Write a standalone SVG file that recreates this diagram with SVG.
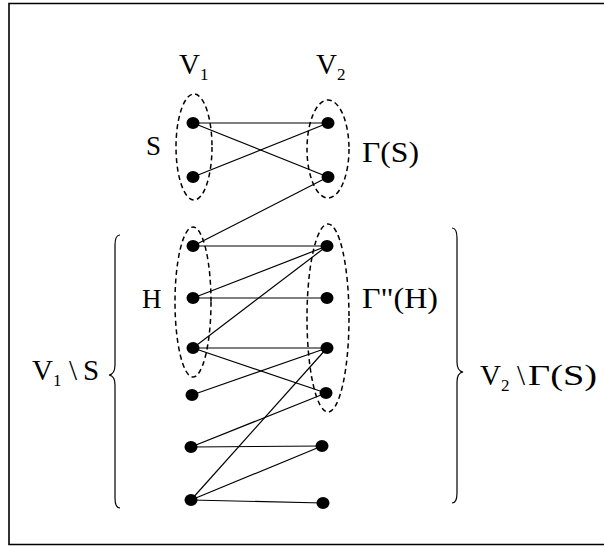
<svg xmlns="http://www.w3.org/2000/svg" width="604" height="546" viewBox="0 0 604 546">
<style>
.t{font-family:"Liberation Serif","Times New Roman",serif;font-size:29px;fill:#000}
.m{font-size:27px}
.sub{font-size:17px}
.e{fill:none;stroke:#000;stroke-width:1.5;stroke-dasharray:5 3.5}
.d{fill:#000}
#edges line{stroke:#000;stroke-width:1.2}
.br{fill:none;stroke:#000;stroke-width:1.2}
</style>
<rect width="604" height="546" fill="#fff"/>
<g id="frame" fill="none" stroke="#000" stroke-width="1.6">
<path d="M604 3.5H9V544.5H604"/>
</g>
<g id="sets">
<ellipse id="setS" class="e" cx="194" cy="147" rx="18" ry="53"/>
<ellipse id="setGS" class="e" cx="328" cy="149" rx="21" ry="49"/>
<ellipse id="setH" class="e" cx="193" cy="302" rx="18" ry="75"/>
<ellipse id="setGH" class="e" cx="328" cy="318" rx="21" ry="94"/>
</g>
<g id="edges">
<line x1="193" y1="123" x2="328" y2="123"/>
<line x1="193" y1="123" x2="328" y2="177"/>
<line x1="193" y1="177" x2="328" y2="123"/>
<line x1="328" y1="177" x2="193" y2="246"/>
<line x1="193" y1="246" x2="327" y2="246"/>
<line x1="193" y1="298" x2="327" y2="246"/>
<line x1="193" y1="298" x2="327" y2="298"/>
<line x1="193" y1="348" x2="327" y2="246"/>
<line x1="193" y1="348" x2="327" y2="348"/>
<line x1="193" y1="348" x2="326" y2="393"/>
<line x1="192" y1="395" x2="327" y2="348"/>
<line x1="191" y1="500" x2="327" y2="348"/>
<line x1="191" y1="447" x2="326" y2="393"/>
<line x1="191" y1="447" x2="322" y2="446"/>
<line x1="191" y1="500" x2="322" y2="446"/>
<line x1="191" y1="500" x2="323" y2="503"/>
</g>
<g id="nodes">
<g id="l1"><ellipse class="d" cx="193" cy="123" rx="6.5" ry="6"/></g>
<g id="l2"><ellipse class="d" cx="193" cy="177" rx="6.5" ry="6"/></g>
<g id="l3"><ellipse class="d" cx="193" cy="246" rx="6.5" ry="6"/></g>
<g id="l4"><ellipse class="d" cx="193" cy="298" rx="6.5" ry="6"/></g>
<g id="l5"><ellipse class="d" cx="193" cy="348" rx="6.5" ry="6"/></g>
<g id="l6"><ellipse class="d" cx="192" cy="395" rx="6.5" ry="6"/></g>
<g id="l7"><ellipse class="d" cx="191" cy="447" rx="6.5" ry="6"/></g>
<g id="l8"><ellipse class="d" cx="191" cy="500" rx="6.5" ry="6"/></g>
<g id="r1"><ellipse class="d" cx="328" cy="123" rx="6.5" ry="6"/></g>
<g id="r2"><ellipse class="d" cx="328" cy="177" rx="6.5" ry="6"/></g>
<g id="r3"><ellipse class="d" cx="327" cy="246" rx="6.5" ry="6"/></g>
<g id="r4"><ellipse class="d" cx="327" cy="298" rx="6.5" ry="6"/></g>
<g id="r5"><ellipse class="d" cx="327" cy="348" rx="6.5" ry="6"/></g>
<g id="r6"><ellipse class="d" cx="326" cy="393" rx="6.5" ry="6"/></g>
<g id="r7"><ellipse class="d" cx="322" cy="446" rx="6.5" ry="6"/></g>
<g id="r8"><ellipse class="d" cx="323" cy="503" rx="6.5" ry="6"/></g>
</g>
<g id="braces">
<path class="br" d="M120 235Q115 235 115 245L115 365Q115 374 109 375Q115 376 115 385L115 498Q115 508 120 508"/>
<path class="br" d="M452 228Q457 228 457 238L457 362Q457 371 463 372Q457 373 457 382L457 493Q457 503 452 503"/>
</g>
<g id="labels">
<text class="t" x="179" y="74">V<tspan class="sub" dy="6">1</tspan></text>
<text class="t" x="316" y="74">V<tspan class="sub" dy="6">2</tspan></text>
<text class="t m" x="146" y="155">S</text>
<text class="t" x="362" y="162" textLength="57" lengthAdjust="spacingAndGlyphs">Γ(S)</text>
<text class="t m" x="142" y="308">H</text>
<text class="t" x="362" y="308" textLength="76" lengthAdjust="spacingAndGlyphs">Γ"(H)</text>
<text class="t" x="32" y="380">V<tspan class="sub" dy="6">1</tspan><tspan x="69" dy="-6">\</tspan><tspan x="83">S</tspan></text>
<text class="t" x="480" y="385">V<tspan class="sub" dy="6">2</tspan><tspan x="517" dy="-6">\</tspan><tspan x="528" textLength="69" lengthAdjust="spacingAndGlyphs">Γ(S)</tspan></text>
</g>
</svg>
